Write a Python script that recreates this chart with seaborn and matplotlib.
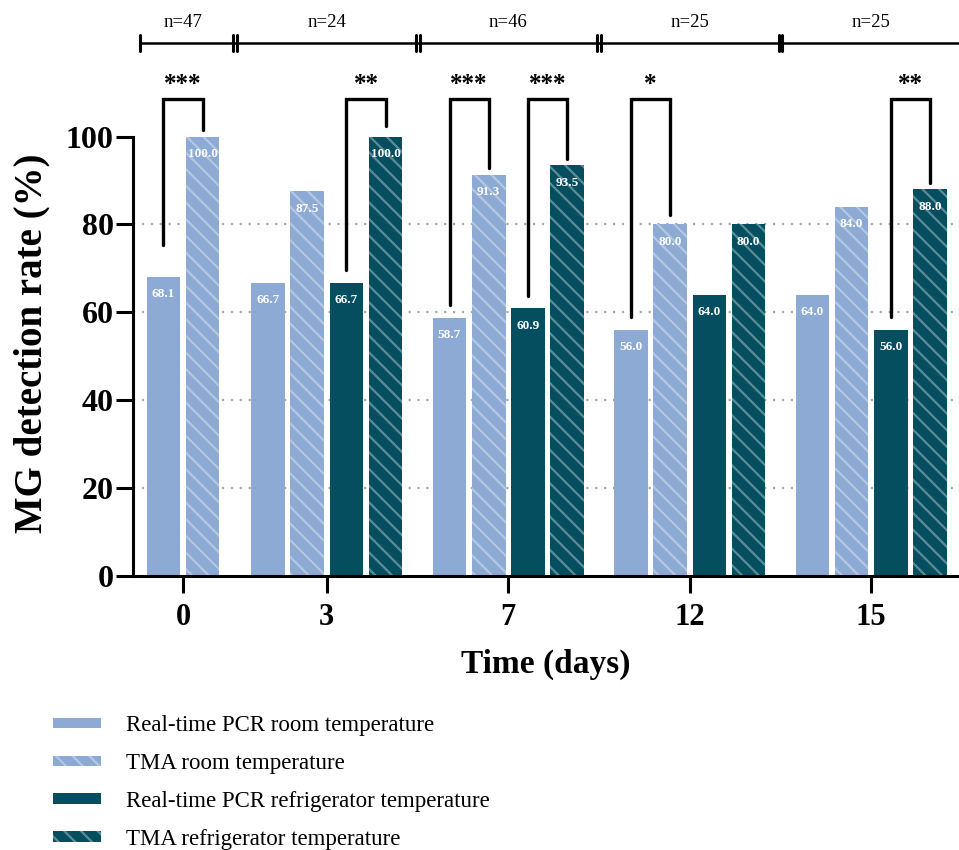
import numpy as np
import pandas as pd
import matplotlib
matplotlib.use("Agg")
import matplotlib.pyplot as plt
import seaborn as sns
from matplotlib.patches import Patch

# data
days = ["0", "3", "7", "12", "15"]
n_samples = [47, 24, 46, 25, 25]
series = [
    "Real-time PCR room temperature",
    "TMA room temperature",
    "Real-time PCR refrigerator temperature",
    "TMA refrigerator temperature",
]
pcr_room = [68.1, 66.7, 58.7, 56.0, 64.0]
tma_room = [100.0, 87.5, 91.3, 80.0, 84.0]
pcr_fridge = [np.nan, 66.7, 60.9, 64.0, 56.0]
tma_fridge = [np.nan, 100.0, 93.5, 80.0, 88.0]

# significance brackets: (day index, bar a, bar b, leg bottom a, leg bottom b, label)
brackets = [
    (0, 0, 1, 75.4, 101.6, "***"),
    (1, 2, 3, 69.7, 102.3, "**"),
    (2, 0, 1, 61.7, 92.9, "***"),
    (2, 2, 3, 63.6, 94.8, "***"),
    (3, 0, 1, 58.8, 82.2, "*"),
    (4, 2, 3, 58.8, 89.5, "**"),
]

light = "#8caad3"
dark = "#054e60"
palette = [light, light, dark, dark]
hatched = [False, True, False, True]

sns.set_theme(style="white")
plt.rcParams["font.family"] = ["Liberation Serif", "DejaVu Serif"]
plt.rcParams["text.color"] = "black"
plt.rcParams["axes.labelcolor"] = "black"
plt.rcParams["xtick.color"] = "black"
plt.rcParams["ytick.color"] = "black"
plt.rcParams["hatch.linewidth"] = 1.6

# bar positions (in bar-pitch units)
centers = [0.0, 3.67, 8.30, 12.93, 17.56]


def bar_pos(d, k):
    nb = 2 if d == 0 else 4
    return centers[d] + (k - (nb - 1) / 2)


rows = []
for d in range(len(days)):
    for k, vals in enumerate([pcr_room, tma_room, pcr_fridge, tma_fridge]):
        if not np.isnan(vals[d]):
            rows.append({"pos": bar_pos(d, k), "rate": vals[d], "series": series[k]})
df = pd.DataFrame(rows)

fig = plt.figure(figsize=(9.59, 8.5), dpi=100)
ax = fig.add_axes([0.1387, 0.3229, 0.8613, 0.6765])

for yv in [20, 40, 60, 80]:
    ax.axhline(yv, color="#a8a8a8", ls=(0, (1, 3)), lw=1.6, zorder=0)

sns.barplot(
    data=df, x="pos", y="rate", hue="series", hue_order=series,
    palette=palette, saturation=1, native_scale=True, dodge=False, width=0.86,
    errorbar=None, legend=False, ax=ax, zorder=2,
)

hatch_ec = (1, 1, 1, 0.35)
for cont, h in zip(ax.containers, hatched):
    for p in cont:
        p.set_linewidth(0)
        if h:
            p.set_hatch("\\\\")
            p.set_edgecolor(hatch_ec)
    ax.bar_label(cont, fmt="%.1f", padding=-17, color="white",
                 fontsize=9.5, fontweight="bold")

ax.set_xlim(-1.276, 19.8)
ax.set_ylim(0, 131)
ax.set_yticks([0, 20, 40, 60, 80, 100])
ax.set_xticks(centers)
ax.set_xticklabels(days)
sns.despine(ax=ax)
ax.spines["left"].set_bounds(0, 100)
for s in ["left", "bottom"]:
    ax.spines[s].set_linewidth(2.2)
    ax.spines[s].set_color("black")
ax.tick_params(axis="y", length=12, width=2.2, labelsize=23, pad=2, left=True)
ax.tick_params(axis="x", length=12, width=2.2, labelsize=22, pad=8, bottom=True)
for lab in ax.get_xticklabels() + ax.get_yticklabels():
    lab.set_fontweight("bold")
ax.set_xlabel("Time (days)", fontsize=24, fontweight="bold", labelpad=12)
ax.set_ylabel("MG detection rate (%)", fontsize=28, fontweight="bold")
ax.yaxis.set_label_coords(-0.1005, 53 / 131)

# significance brackets
top = 108.5
for d, a, b, ya, yb, lab in brackets:
    xa, xb = bar_pos(d, a), bar_pos(d, b)
    ax.plot([xa, xa, xb, xb], [ya, top, top, yb], color="black", lw=2.4,
            solid_joinstyle="miter", clip_on=False, zorder=3)
    ax.text((xa + xb) / 2, 111.8, lab, ha="center", va="center",
            fontsize=18, fontweight="bold")

# sample size brackets
ny = 121.4
bounds = [(bar_pos(d, 1 if d == 0 else 3) + bar_pos(d + 1, 0)) / 2 for d in range(len(days) - 1)]
ax.plot([-1.10, 19.8], [ny, ny], color="black", lw=1.8, clip_on=False)
ax.plot([-1.10, -1.10], [ny - 1.8, ny + 1.8], color="black", lw=2.2, clip_on=False)
for bx in bounds:
    for dx in (-0.05, 0.05):
        ax.plot([bx + dx, bx + dx], [ny - 1.8, ny + 1.8], color="black", lw=2.2, clip_on=False)
for c, n in zip(centers, n_samples):
    ax.text(c, 126.0, f"n={n}", ha="center", va="center", fontsize=13.5)

handles = [
    Patch(facecolor=col, edgecolor=hatch_ec if h else col, lw=0,
          hatch="\\\\" if h else None, label=s)
    for col, h, s in zip(palette, hatched, series)
]
fig.legend(handles=handles, loc="upper left", bbox_to_anchor=(0.055, 0.159),
           frameon=False, fontsize=16.5, handlelength=2.1, handleheight=0.3,
           handletextpad=1.1, labelspacing=0.74, borderpad=0, borderaxespad=0)

fig.savefig("out.png", dpi=100)
